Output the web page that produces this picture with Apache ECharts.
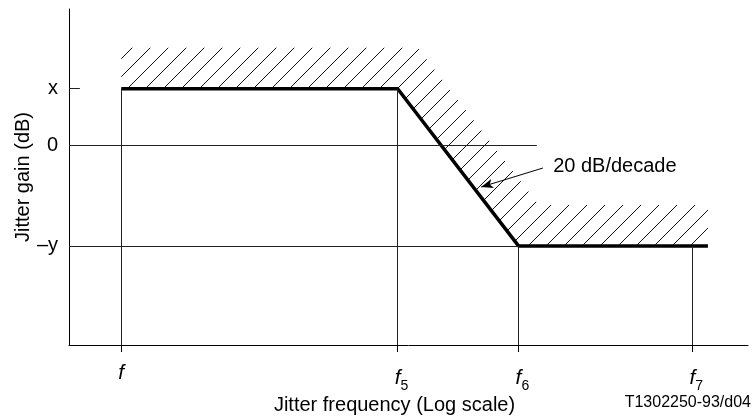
<!DOCTYPE html>
<html>
<head>
<meta charset="utf-8">
<script src="https://cdn.jsdelivr.net/npm/echarts@6/dist/echarts.min.js"></script>
<style>
  html, body { margin: 0; padding: 0; background: #fff; }
  #chart { width: 752px; height: 418px; }
</style>
</head>
<body>
<div id="chart"></div>
<script>
  // x positions are log-frequency in arbitrary units, y in dB (arbitrary)
  const freqTicks = [7.7, 48.4, 66.2, 91.8];
  const freqLabels = ['', '5', '6', '7'];
  const gainTicks = [5, 0, -8.8];
  const gainLabels = ['x', '0', '–y'];

  // jitter gain mask (thick line)
  const maskX = [7.7, 48.4, 66.2, 94.1];
  const maskY = [5, 5, -8.8, -8.8];

  // upper edge of the hatched band
  const bandX = [7.7, 51.35, 69.2, 94.1];
  const bandY = [8.6, 8.6, -5.2, -5.2];

  // thin reference lines [x1, y1, x2, y2]
  const refLines = [
    [0, 5, 1.6, 5],
    [0, 0, 68.9, 0],
    [0, -8.8, 66.2, -8.8],
    [7.7, 5, 7.7, -17.5],
    [48.4, 5, 48.4, -17.5],
    [66.2, -8.8, 66.2, -17.5],
    [91.8, -8.8, 91.8, -17.5]
  ];

  const slopeArrow = [69.8, -1.96, 60.7, -3.63];
  const slopeText = '20 dB/decade';
  const slopeTextAt = [71.3, -1.87];

  const FONT = "'Liberation Sans', Arial, sans-serif";

  function makeHatch() {
    const w = 18, h = 18;
    const c = document.createElement('canvas');
    c.width = w; c.height = h;
    const ctx = c.getContext('2d');
    ctx.strokeStyle = '#111';
    ctx.lineWidth = 1;
    [-w, 0, w].forEach(function (dx) {
      ctx.beginPath();
      ctx.moveTo(dx, h);
      ctx.lineTo(dx + w, 0);
      ctx.stroke();
    });
    return c;
  }
  const hatch = makeHatch();

  function near(a, b) { return Math.abs(a - b) < 0.01; }

  const chart = echarts.init(document.getElementById('chart'));
  chart.setOption({
    animation: false,
    title: {
      text: 'T1302250-93/d04',
      right: 1,
      top: 395,
      padding: 0,
      textStyle: { fontSize: 16, fontWeight: 'normal', color: '#000', fontFamily: FONT }
    },
    grid: { left: 69, right: 4, top: 9, bottom: 73, outerBoundsMode: 'none' },
    xAxis: {
      type: 'value',
      min: 0,
      max: 100,
      name: 'Jitter frequency (Log scale)',
      nameLocation: 'middle',
      nameGap: 50,
      nameMoveOverlap: false,
      nameTextStyle: { fontSize: 20, color: '#000', fontFamily: FONT, padding: [0, 28, 0, 0] },
      axisLine: { onZero: false, lineStyle: { color: '#000', width: 1 } },
      axisTick: { show: true, customValues: freqTicks, length: 7, lineStyle: { color: '#000' } },
      splitLine: { show: false },
      axisLabel: {
        customValues: freqTicks,
        margin: 18,
        formatter: function (v) {
          const i = freqTicks.findIndex(function (t) { return near(t, v); });
          const sub = freqLabels[i] || '';
          if (!sub) return '{f|f}';
          return '{h|' + sub + '}{f|f}{s|' + sub + '}';
        },
        rich: {
          f: { fontSize: 21, fontStyle: 'italic', color: '#000', fontFamily: FONT },
          s: { fontSize: 14, color: '#000', fontFamily: FONT, padding: [16, 0, 0, 0] },
          h: { fontSize: 14, color: 'rgba(0,0,0,0)', fontFamily: FONT, padding: [16, 0, 0, 0] }
        }
      }
    },
    yAxis: {
      type: 'value',
      min: -17.5,
      max: 12,
      name: 'Jitter gain (dB)',
      nameLocation: 'middle',
      nameGap: 36,
      nameMoveOverlap: false,
      nameTextStyle: { fontSize: 20, color: '#000', fontFamily: FONT },
      axisLine: { show: true, onZero: false, lineStyle: { color: '#000', width: 1 } },
      axisTick: { show: false },
      splitLine: { show: false },
      axisLabel: {
        customValues: gainTicks,
        margin: 11,
        fontSize: 20,
        color: '#000',
        fontFamily: FONT,
        formatter: function (v) {
          const i = gainTicks.findIndex(function (t) { return near(t, v); });
          return i >= 0 ? gainLabels[i] : '';
        }
      }
    },
    series: [
      {
        type: 'custom',
        z: 1,
        silent: true,
        data: [[0, 0]],
        renderItem: function (params, api) {
          const pts = [];
          for (let i = 0; i < bandX.length; i++) pts.push(api.coord([bandX[i], bandY[i]]));
          for (let i = maskX.length - 1; i >= 0; i--) pts.push(api.coord([maskX[i], maskY[i]]));
          return {
            type: 'polygon',
            shape: { points: pts },
            style: { fill: { image: hatch, repeat: 'repeat' }, stroke: null }
          };
        }
      },
      {
        type: 'line',
        z: 2,
        silent: true,
        data: [],
        markLine: {
          silent: true,
          symbol: ['none', 'none'],
          label: { show: false },
          lineStyle: { color: '#222', width: 1, type: 'solid' },
          data: refLines.map(function (l) {
            return [{ coord: [l[0], l[1]] }, { coord: [l[2], l[3]] }];
          })
        }
      },
      {
        type: 'line',
        z: 3,
        silent: true,
        data: [],
        markLine: {
          silent: true,
          symbol: ['none', 'arrow'],
          symbolSize: [7, 12],
          label: { show: false },
          lineStyle: { color: '#000', width: 1, type: 'solid' },
          data: [[{ coord: [slopeArrow[0], slopeArrow[1]] }, { coord: [slopeArrow[2], slopeArrow[3]] }]]
        }
      },
      {
        type: 'line',
        z: 4,
        silent: true,
        symbol: 'none',
        data: maskX.map(function (x, i) { return [x, maskY[i]]; }),
        lineStyle: { color: '#000', width: 3.5 }
      }
    ]
  });

  const p = chart.convertToPixel({ gridIndex: 0 }, slopeTextAt);
  chart.setOption({
    graphic: [{
      type: 'text',
      x: p[0],
      y: p[1],
      style: {
        text: slopeText,
        fontSize: 20,
        fontFamily: FONT,
        fill: '#000',
        textAlign: 'left',
        textVerticalAlign: 'middle'
      }
    }]
  });
</script>
</body>
</html>
